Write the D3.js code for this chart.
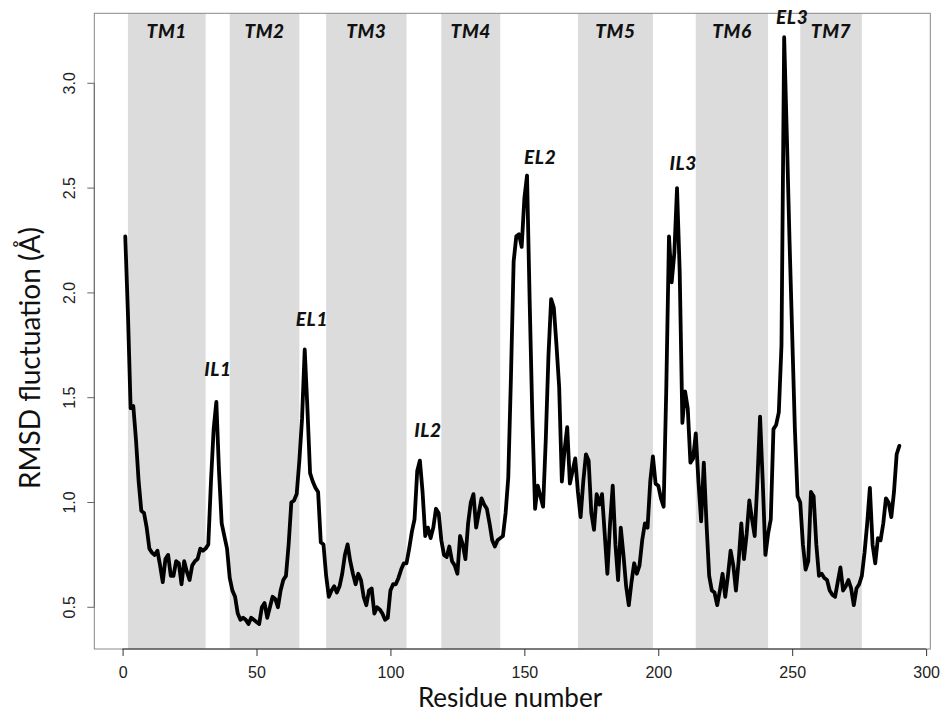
<!DOCTYPE html>
<html>
<head>
<meta charset="utf-8">
<script src="https://cdn.jsdelivr.net/npm/d3@7"></script>
<style>
    body { margin: 0; background: #fff; }
    svg { display: block; }
    .tick-label { font-family: "Liberation Sans", Arial, sans-serif; font-size: 16px; fill: #222; }
    .title { font-family: Lato, "Open Sans", sans-serif; fill: #111; }
    .region { font-family: Lato, "Open Sans", sans-serif; font-size: 19px; font-weight: 900; font-style: italic; fill: #111; letter-spacing: 0.6px; }
</style>
</head>
<body>
<svg width="945" height="714"></svg>
<script>
// RMSD fluctuation per residue, residues 1..290
const rmsd = [
    2.27, 1.90, 1.45, 1.46, 1.30, 1.10, 0.96, 0.95, 0.88, 0.78,
    0.76, 0.75, 0.77, 0.70, 0.62, 0.73, 0.75, 0.65, 0.65, 0.72,
    0.71, 0.61, 0.72, 0.67, 0.63, 0.70, 0.72, 0.73, 0.78, 0.77,
    0.78, 0.80, 1.10, 1.35, 1.48, 1.15, 0.90, 0.84, 0.78, 0.64,
    0.58, 0.55, 0.47, 0.44, 0.45, 0.44, 0.42, 0.45, 0.44, 0.43,
    0.42, 0.50, 0.52, 0.45, 0.50, 0.55, 0.54, 0.50, 0.58, 0.63,
    0.65, 0.80, 1.00, 1.01, 1.04, 1.20, 1.40, 1.73, 1.45, 1.14,
    1.10, 1.07, 1.05, 0.81, 0.80, 0.65, 0.55, 0.58, 0.60, 0.57,
    0.60, 0.66, 0.75, 0.80, 0.72, 0.66, 0.61, 0.66, 0.63, 0.55,
    0.51, 0.58, 0.59, 0.47, 0.50, 0.49, 0.47, 0.44, 0.45, 0.58,
    0.61, 0.61, 0.64, 0.68, 0.71, 0.71, 0.78, 0.86, 0.92, 1.15,
    1.20, 1.05, 0.84, 0.88, 0.83, 0.88, 0.97, 0.95, 0.82, 0.75,
    0.74, 0.79, 0.72, 0.70, 0.66, 0.84, 0.80, 0.73, 0.90, 1.00,
    1.04, 0.88, 0.95, 1.02, 0.99, 0.97, 0.90, 0.82, 0.79, 0.82,
    0.83, 0.84, 0.95, 1.12, 1.60, 2.15, 2.27, 2.28, 2.22, 2.45,
    2.56, 1.95, 1.40, 0.97, 1.08, 1.03, 0.98, 1.30, 1.70, 1.97,
    1.93, 1.75, 1.55, 1.10, 1.25, 1.36, 1.09, 1.15, 1.21, 1.05,
    0.93, 1.10, 1.23, 1.20, 0.95, 0.87, 1.04, 0.99, 1.04, 0.85,
    0.66, 0.90, 1.08, 0.80, 0.63, 0.88, 0.75, 0.60, 0.51, 0.62,
    0.71, 0.66, 0.70, 0.82, 0.90, 0.88, 1.10, 1.22, 1.09, 1.08,
    1.02, 0.98, 1.55, 2.27, 2.05, 2.19, 2.50, 2.10, 1.38, 1.53,
    1.45, 1.19, 1.21, 1.33, 1.10, 0.91, 1.19, 0.90, 0.65, 0.58,
    0.57, 0.51, 0.58, 0.66, 0.55, 0.65, 0.77, 0.70, 0.58, 0.72,
    0.90, 0.73, 0.85, 1.01, 0.92, 0.84, 1.10, 1.41, 1.10, 0.75,
    0.85, 0.92, 1.35, 1.37, 1.43, 1.75, 3.22, 2.75, 2.25, 1.80,
    1.35, 1.03, 1.00, 0.80, 0.68, 0.72, 1.05, 1.03, 0.80, 0.65,
    0.66, 0.64, 0.63, 0.58, 0.56, 0.55, 0.62, 0.69, 0.58, 0.60,
    0.63, 0.59, 0.51, 0.59, 0.61, 0.65, 0.76, 0.90, 1.07, 0.80,
    0.71, 0.83, 0.82, 0.90, 1.02, 1.00, 0.93, 1.05, 1.23, 1.27
];

// transmembrane helices (residue ranges)
const helixNames = ['TM1', 'TM2', 'TM3', 'TM4', 'TM5', 'TM6', 'TM7'];
const helixStart = [2, 40, 76, 119, 170, 214, 253];
const helixEnd = [31, 66, 106, 141, 198, 241, 276];

// loop labels: residue and rmsd position
const loopNames = ['IL1', 'EL1', 'IL2', 'EL2', 'IL3', 'EL3'];
const loopX = [35.6, 70.7, 114, 155.9, 209.3, 250];
const loopY = [1.64, 1.88, 1.35, 2.65, 2.62, 3.32];

const xTicks = [0, 50, 100, 150, 200, 250, 300];
const yTicks = [0.5, 1.0, 1.5, 2.0, 2.5, 3.0];

const plotLeft = 94.3, plotRight = 930.3, plotTop = 13.3, plotBottom = 649;

const x = d3.scaleLinear().domain([-10.56, 301.56]).range([plotLeft, plotRight]);
const y = d3.scaleLinear().domain([0.301, 3.334]).range([plotBottom, plotTop]);

const svg = d3.select('svg');

drawBands();
drawCurve();
drawAxes();
drawLabels();

function drawBands() {
    svg.selectAll('.band')
        .data(helixStart)
        .enter().append('rect')
        .attr('class', 'band')
        .attr('x', function (d) { return x(d) })
        .attr('width', function (d, i) { return x(helixEnd[i]) - x(d) })
        .attr('y', plotTop)
        .attr('height', plotBottom - plotTop)
        .style('fill', '#dcdcdc');
}

function drawCurve() {
    const line = d3.line()
        .x(function (d, i) { return x(i + 1) })
        .y(function (d) { return y(d) });

    svg.append('path')
        .datum(rmsd)
        .attr('d', line)
        .style('fill', 'none')
        .style('stroke', '#000')
        .style('stroke-width', 3.8)
        .style('stroke-linejoin', 'round')
        .style('stroke-linecap', 'round');
}

function drawAxes() {
    // plot box
    svg.append('rect')
        .attr('x', plotLeft).attr('y', plotTop)
        .attr('width', plotRight - plotLeft).attr('height', plotBottom - plotTop)
        .style('fill', 'none').style('stroke', '#888').style('stroke-width', 1);

    const xAxis = svg.append('g')
        .attr('transform', 'translate(0,' + plotBottom + ')')
        .call(d3.axisBottom(x).tickValues(xTicks).tickSize(7).tickSizeOuter(0));
    xAxis.select('.domain').attr('d', 'M' + x(0) + ',0H' + x(300)).style('stroke', '#333');
    xAxis.selectAll('line').style('stroke', '#333');
    xAxis.selectAll('text')
        .attr('class', 'tick-label')
        .attr('y', 23).attr('dy', null)
        .attr('dominant-baseline', 'central');

    const yAxis = svg.append('g')
        .attr('transform', 'translate(' + plotLeft + ',0)')
        .call(d3.axisLeft(y).tickValues(yTicks).tickSize(7).tickFormat(d3.format('.1f')).tickSizeOuter(0));
    yAxis.select('.domain').attr('d', 'M0,' + y(0.5) + 'V' + y(3.0)).style('stroke', '#666');
    yAxis.selectAll('line').style('stroke', '#666');
    yAxis.selectAll('text')
        .attr('class', 'tick-label')
        .attr('x', null).attr('dy', null)
        .attr('text-anchor', 'middle')
        .attr('dominant-baseline', 'central')
        .attr('transform', function (d) { return 'translate(-25,' + y(d) + ') rotate(-90)' });
    yAxis.selectAll('.tick').attr('transform', null);
    yAxis.selectAll('.tick line').attr('transform', function (d) { return 'translate(0,' + y(d) + ')' });

    svg.append('text')
        .attr('class', 'title')
        .style('font-size', '26px')
        .attr('x', 510)
        .attr('y', 697)
        .attr('text-anchor', 'middle')
        .attr('dominant-baseline', 'central')
        .text('Residue number');

    svg.append('text')
        .attr('class', 'title')
        .style('font-size', '28px')
        .attr('text-anchor', 'middle')
        .attr('dominant-baseline', 'central')
        .attr('transform', 'translate(29,358) rotate(-90)')
        .text('RMSD fluctuation (Å)');
}

function drawLabels() {
    svg.selectAll('.helix')
        .data(helixNames)
        .enter().append('text')
        .attr('class', 'region')
        .attr('x', function (d, i) { return x((helixStart[i] + helixEnd[i]) / 2) })
        .attr('y', y(3.25))
        .attr('text-anchor', 'middle')
        .attr('dominant-baseline', 'central')
        .text(function (d) { return d });

    svg.selectAll('.loop')
        .data(loopNames)
        .enter().append('text')
        .attr('class', 'region')
        .attr('x', function (d, i) { return x(loopX[i]) })
        .attr('y', function (d, i) { return y(loopY[i]) })
        .attr('text-anchor', 'middle')
        .attr('dominant-baseline', 'central')
        .text(function (d) { return d });
}
</script>
</body>
</html>
